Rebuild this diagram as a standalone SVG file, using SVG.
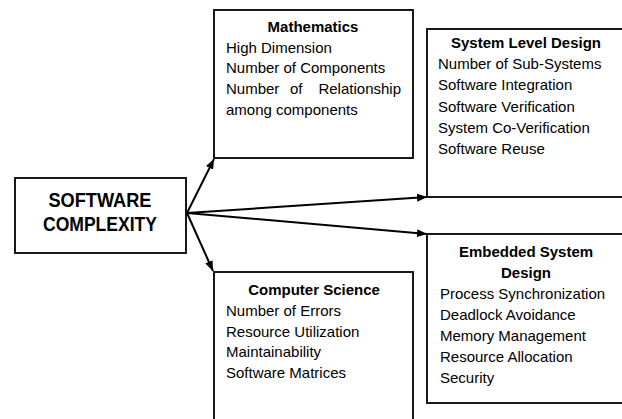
<svg xmlns="http://www.w3.org/2000/svg" width="622" height="419" viewBox="0 0 622 419">
<style>
.box{fill:#fff;stroke:#000;stroke-width:1.8}
.t{font-family:"Liberation Sans",Arial,sans-serif;font-size:15px;fill:#000}
.b{font-weight:bold}
.c{text-anchor:middle}
.big{font-family:"Liberation Sans",Arial,sans-serif;font-size:20px;font-weight:bold;text-anchor:middle;fill:#000}
.edge{stroke:#000;stroke-width:2;fill:none;marker-end:url(#ah)}
</style>
<defs>
<marker id="ah" viewBox="0 0 10 8" refX="10" refY="4" markerWidth="10" markerHeight="8" markerUnits="userSpaceOnUse" orient="auto">
<path d="M0,0 L10,4 L0,8 Z" fill="#000"/>
</marker>
</defs>
<rect width="622" height="419" fill="#fff"/>
<g id="software-complexity">
<rect class="box" x="15" y="178" width="171" height="75"/>
<text class="big" x="100" y="207" textLength="103" lengthAdjust="spacingAndGlyphs">SOFTWARE</text>
<text class="big" x="100" y="231" textLength="114" lengthAdjust="spacingAndGlyphs">COMPLEXITY</text>
</g>
<g id="mathematics">
<rect class="box" x="214" y="10" width="199" height="148"/>
<text class="t b c" x="313" y="32">Mathematics</text>
<text class="t" x="226" y="53">High Dimension</text>
<text class="t" x="226" y="73">Number of Components</text>
<text class="t" y="94"><tspan x="226">Number</tspan><tspan x="290">of</tspan><tspan x="401" text-anchor="end">Relationship</tspan></text>
<text class="t" x="226" y="115">among components</text>
</g>
<g id="system-level-design">
<rect class="box" x="427" y="29" width="200" height="168"/>
<text class="t b c" x="526" y="48">System Level Design</text>
<text class="t" x="438" y="69">Number of Sub-Systems</text>
<text class="t" x="438" y="90">Software Integration</text>
<text class="t" x="438" y="112">Software Verification</text>
<text class="t" x="438" y="133">System Co-Verification</text>
<text class="t" x="438" y="154">Software Reuse</text>
</g>
<g id="embedded-system-design">
<rect class="box" x="427" y="234" width="200" height="169"/>
<text class="t b c" x="526" y="257">Embedded System</text>
<text class="t b c" x="526" y="278">Design</text>
<text class="t" x="440" y="299">Process Synchronization</text>
<text class="t" x="440" y="320">Deadlock Avoidance</text>
<text class="t" x="440" y="341">Memory Management</text>
<text class="t" x="440" y="362">Resource Allocation</text>
<text class="t" x="440" y="383">Security</text>
</g>
<g id="computer-science">
<rect class="box" x="214" y="272" width="199" height="160"/>
<text class="t b c" x="314" y="295">Computer Science</text>
<text class="t" x="226" y="316">Number of Errors</text>
<text class="t" x="226" y="337">Resource Utilization</text>
<text class="t" x="226" y="357">Maintainability</text>
<text class="t" x="226" y="378">Software Matrices</text>
</g>
<g id="connectors">
<line class="edge" x1="187" y1="213" x2="214" y2="159"/>
<line class="edge" x1="187" y1="213" x2="427" y2="197"/>
<line class="edge" x1="187" y1="213" x2="427" y2="234"/>
<line class="edge" x1="187" y1="213" x2="213" y2="271"/>
</g>
</svg>
